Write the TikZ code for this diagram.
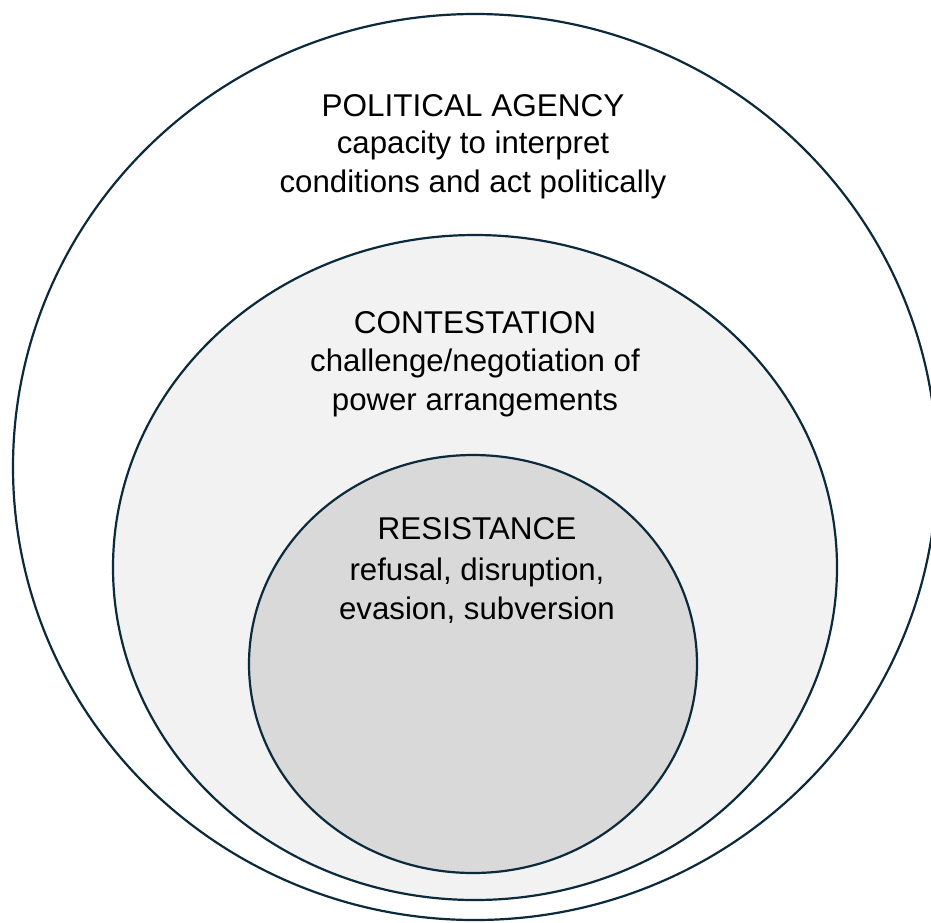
\documentclass[tikz,border=0pt]{standalone}
\usepackage{fontspec}
\setmainfont{Liberation Sans}
\begin{document}
\begin{tikzpicture}[x=1pt,y=-1pt,
  ring/.style={draw=ringline,line width=2.2pt},
  title/.style={anchor=base,font=\fontsize{31.5}{38}\selectfont,inner sep=0pt},
  desc/.style={anchor=north,align=center,font=\fontsize{31.2}{38.5}\selectfont,inner sep=0pt}]
\definecolor{ringline}{HTML}{0B2A3C}
\definecolor{midfill}{HTML}{F2F2F2}
\definecolor{innerfill}{HTML}{D9D9D9}
\useasboundingbox (0,0) rectangle (931,922);
% nested rings, outermost first
\draw[ring,fill=white] (475,467) ellipse [x radius=462,y radius=453];
\draw[ring,fill=midfill] (475,567.5) ellipse [x radius=362,y radius=332.5];
\draw[ring,fill=innerfill] (473,664) ellipse [x radius=224,y radius=209];
% labels
\node[title] (agency) at (473,116) {POLITICAL AGENCY};
\node[desc] (agencytxt) at (473,131) {capacity to interpret\\conditions and act politically};
\node[title] (contest) at (475,333) {CONTESTATION};
\node[desc] (contesttxt) at (475,349) {challenge/negotiation of\\power arrangements};
\node[title] (resist) at (477,539) {RESISTANCE};
\node[desc] (resisttxt) at (477,558) {refusal, disruption,\\evasion, subversion};
\end{tikzpicture}
\end{document}
